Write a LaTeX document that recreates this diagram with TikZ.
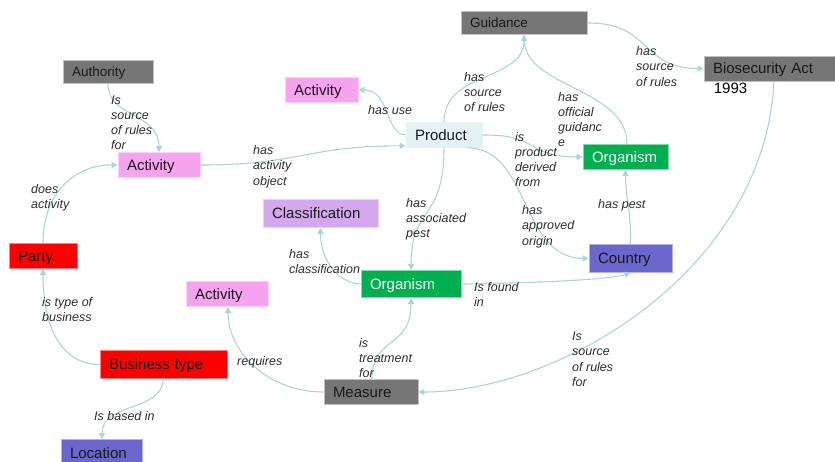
\documentclass[tikz,border=0pt]{standalone}
\usepackage{fontspec}
\setmainfont{Liberation Sans}
\usetikzlibrary{arrows.meta}

\definecolor{linkc}{RGB}{168,214,220}
\definecolor{greyc}{RGB}{118,118,118}
\definecolor{pinkc}{RGB}{246,164,240}
\definecolor{lilac}{RGB}{213,168,238}
\definecolor{paleblue}{RGB}{229,242,245}
\definecolor{greenc}{RGB}{0,176,80}
\definecolor{redc}{RGB}{255,0,0}
\definecolor{slate}{RGB}{106,102,204}
\definecolor{labelc}{RGB}{45,45,45}
\definecolor{boxtext}{RGB}{25,25,25}

\begin{document}
\begin{tikzpicture}[x=1pt,y=-1pt,
  box/.style={rectangle, inner xsep=9pt, inner ysep=0pt, align=left,
    text=boxtext, font=\fontsize{15}{17}\selectfont,
    text height=10.7pt, text depth=0pt},
  sz/.style 2 args={text width=#1, minimum height=#2},
  greybox/.style={box, fill=greyc, draw=greyc!45!white, line width=0.6pt},
  smallgrey/.style={greybox, font=\fontsize{13.5}{16}\selectfont, text height=9.7pt},
  pinkbox/.style={box, fill=pinkc, draw=pinkc!50!white, line width=0.6pt},
  lilacbox/.style={box, fill=lilac, draw=lilac!50!white, line width=0.6pt},
  palebox/.style={box, fill=paleblue, draw=paleblue, line width=0.6pt},
  greenbox/.style={box, fill=greenc, draw=greenc!50!white, line width=0.6pt, text=white},
  redbox/.style={box, fill=redc, draw=redc!50!white, line width=0.6pt},
  slatebox/.style={box, fill=slate, draw=slate!50!white, line width=0.6pt},
  link/.style={draw=linkc, line width=1.1pt, -{Triangle[length=6pt,width=6pt]}},
  % multi-line names: the base anchor sits on the last line
  lab/.style={anchor=base west, align=left, inner sep=0pt, text=labelc,
    font=\fontsize{12.5}{15.3}\selectfont\itshape}]

\useasboundingbox (0,0) rectangle (835,461);

% concept boxes
\node[smallgrey, sz={108pt}{23pt}] (guid) at (524,23) {Guidance};
\node[greybox, sz={118pt}{25pt},
  label={[anchor=north west, inner sep=0pt, xshift=10pt, yshift=-2pt, text=black,
          font=\fontsize{15}{17}\selectfont]south west:1993}] (bio) at (772,68.5) {Biosecurity Act};
\node[smallgrey, sz={72pt}{23pt}] (auth) at (108,72) {Authority};
\node[pinkbox, sz={55pt}{25pt}] (act1) at (321.5,90) {Activity};
\node[pinkbox, sz={64pt}{25pt}] (act2) at (159,165) {Activity};
\node[palebox, sz={58pt}{25pt}] (prod) at (444,135) {Product};
\node[greenbox, sz={67pt}{25pt}] (org1) at (625.5,157) {Organism};
\node[lilacbox, sz={97pt}{28pt}] (class) at (320.5,213.5) {Classification};
\node[redbox, sz={50pt}{25pt}] (party) at (43,256) {Party};
\node[pinkbox, sz={64pt}{25pt}] (act3) at (227,294) {Activity};
\node[greenbox, sz={82pt}{27pt}] (org2) at (411,284) {Organism};
\node[slatebox, sz={65pt}{28pt}] (country) at (630.5,258.5) {Country};
\node[redbox, sz={109pt}{28pt}] (btype) at (163.5,364.5) {Business type};
\node[greybox, sz={76pt}{25pt}] (meas) at (371,392) {Measure};
\node[slatebox, sz={63pt}{27pt}] (loc) at (101.5,453) {Location};

% relations
\draw[link] (auth.south) .. controls (108,118) and (159,112) .. (act2.north);
\draw[link] (party.north) .. controls (43,190) and (78,164.5) .. (act2.west);
\draw[link] (btype.west) .. controls (58,364) and (43,322) .. (party.south);
\draw[link] ([xshift=-0.5pt]btype.south) .. controls (163,412) and (102,402) .. ([xshift=0.5pt]loc.north);
\draw[link] (meas.west) .. controls (268,392) and (228,352) .. ([xshift=1pt]act3.south);
\draw[link] ([xshift=1pt]meas.north) .. controls (372,335) and (411,350) .. (org2.south);
\draw[link] (org2.west) .. controls (336,283) and (320.5,258) .. (class.south);
\draw[link] (org2.east) .. controls (545,283) and (612,279) .. (country.south);
\draw[link] (prod.south) .. controls (444,222) and (411,205) .. (org2.north);
\draw[link] (prod.west) .. controls (385,134.5) and (390,89.5) .. (act1.east);
\draw[link] (act2.east) .. controls (300,165) and (305,146) .. ([yshift=2pt]prod.south west);
\draw[link] (prod.north) .. controls (444,70) and (524,82) .. (guid.south);
\draw[link] ([xshift=1.5pt]org1.north) .. controls (627,88) and (526,88) .. (guid.south);
\draw[link] (guid.east) .. controls (652,22.5) and (640,68.5) .. (bio.west);
\draw[link] (prod.east) .. controls (542,134.5) and (524,156.5) .. (org1.west);
\draw[link] ([xshift=-15pt]prod.south east) .. controls (530,148) and (520,258) .. (country.west);
\draw[link] (country.north) .. controls (631,212) and (626,200) .. (org1.south);
\draw[link] ([xshift=2pt]bio.south) .. controls (765,270) and (560,392) .. (meas.east);

% relation names
\node[lab] (t1) at (111,149.9) {Is\\source\\of rules\\for};
\node[lab] (t2) at (31,208.3) {does\\activity};
\node[lab] (t3) at (253,185.1) {has\\activity\\object};
\node[lab] (t4) at (368,114) {has use};
\node[lab] (t5) at (464,111.6) {has\\source\\of rules};
\node[lab] (t6) at (636,86.1) {has\\source\\of rules};
\node[lab] (t7) at (558,146.9) {has\\official\\guidanc\\e};
\node[lab] (t8) at (515,186.9) {is\\product\\derived\\from};
\node[lab] (t9) at (406,237.6) {has\\associated\\pest};
\node[lab] (t10) at (522,245.1) {has\\approved\\origin};
\node[lab] (t11) at (598,208.5) {has pest};
\node[lab] (t12) at (42,321.3) {is type of\\business};
\node[lab] (t13) at (289,273.8) {has\\classification};
\node[lab] (t14) at (237,365) {requires};
\node[lab] (t15) at (359,377.6) {is\\treatment\\for};
\node[lab] (t16) at (94,420.5) {Is based in};
\node[lab] (t17) at (474,306.3) {Is found\\in};
\node[lab] (t18) at (572,386.4) {Is\\source\\of rules\\for};

\end{tikzpicture}
\end{document}
